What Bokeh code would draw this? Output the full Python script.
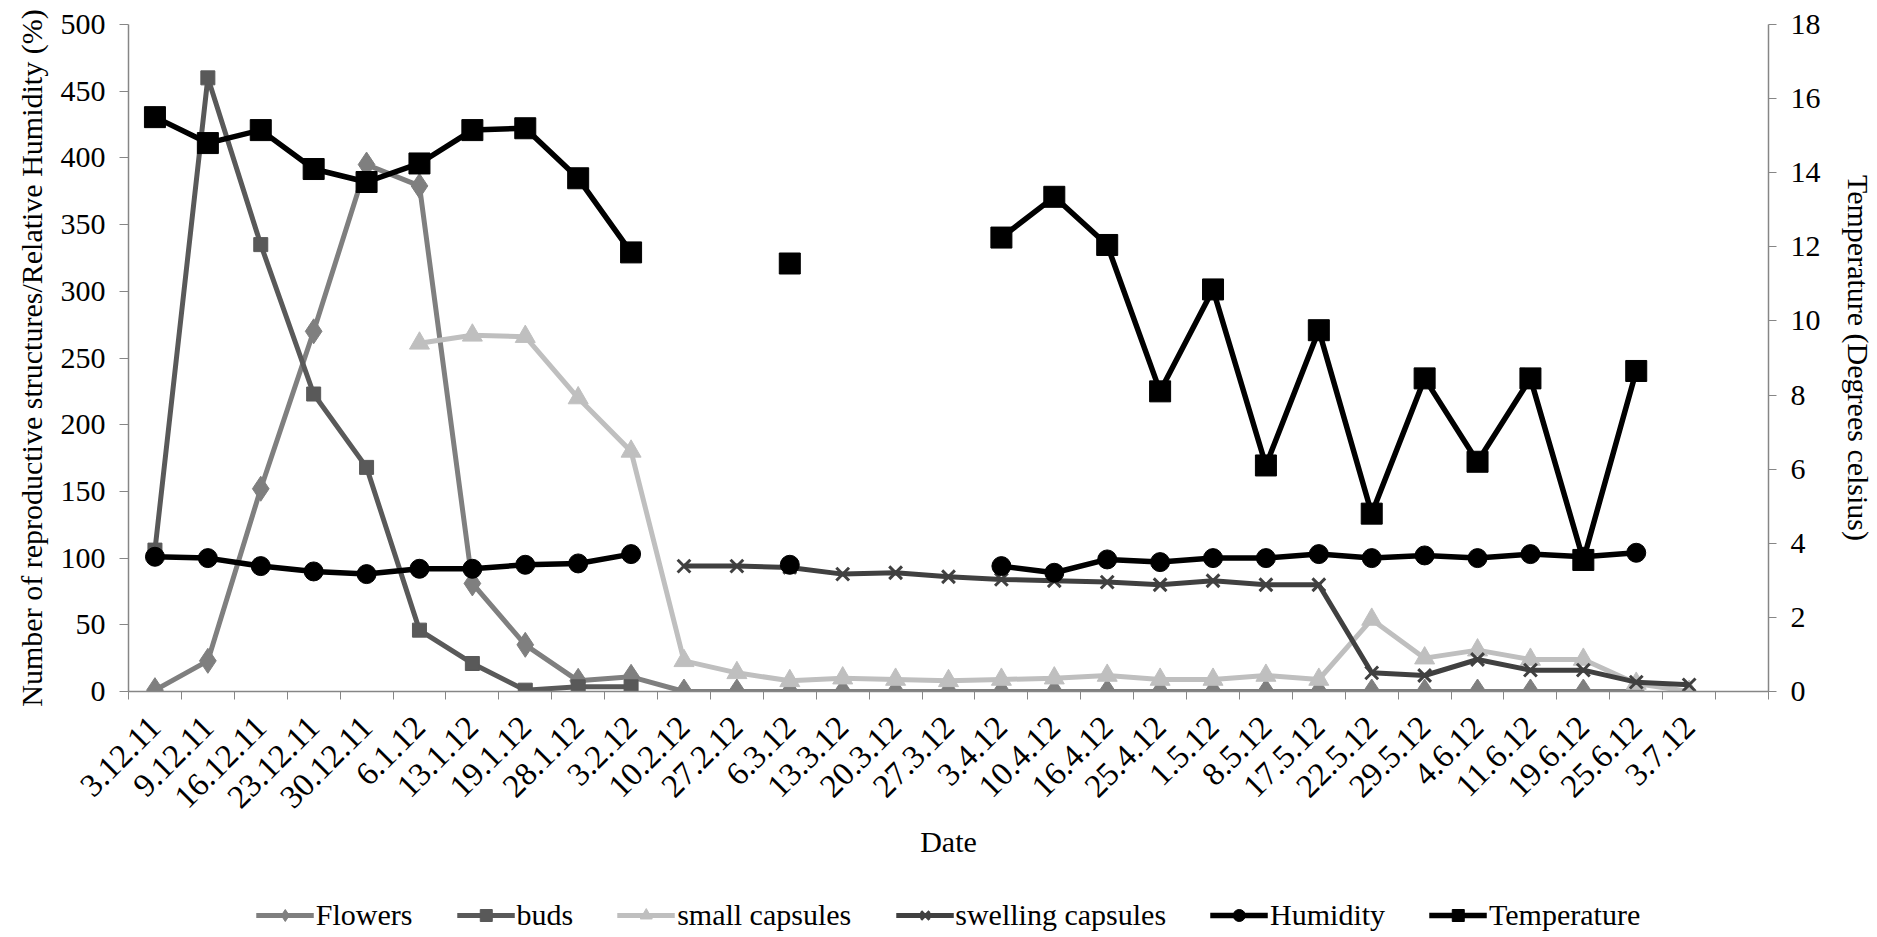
import math
from bokeh.plotting import figure
from bokeh.layouts import column
from bokeh.models import (Range1d, LinearAxis, FixedTicker, ColumnDataSource,
                          Legend, LegendItem)
from bokeh.embed import file_html
from bokeh.resources import INLINE

# Sampling dates (one extra empty slot follows the last date on the axis)
dates = ["3.12.11", "9.12.11", "16.12.11", "23.12.11", "30.12.11", "6.1.12",
         "13.1.12", "19.1.12", "28.1.12", "3.2.12", "10.2.12", "27.2.12",
         "6.3.12", "13.3.12", "20.3.12", "27.3.12", "3.4.12", "10.4.12",
         "16.4.12", "25.4.12", "1.5.12", "8.5.12", "17.5.12", "22.5.12",
         "29.5.12", "4.6.12", "11.6.12", "19.6.12", "25.6.12", "3.7.12"]

N = float("nan")

flowers = [1, 23, 152, 270, 395, 379, 81, 35, 8, 11,
           0, 0, 0, 0, 0, 0, 0, 0, 0, 0, 0, 0, 0, 0, 0, 0, 0, 0, 0, N]
buds = [106, 460, 335, 223, 168, 46, 21, 1, 3.5, 3.5,
        N, N, N, N, N, N, N, N, N, N, N, N, N, N, N, N, N, N, N, N]
small_capsules = [N, N, N, N, N, 261, 267, 266, 220, 180,
                  23, 14, 8, 10, 9, 8, 9, 10, 12, 9,
                  9, 12, 9, 54, 25, 31, 24, 24, 6, 0]
swelling_capsules = [N, N, N, N, N, N, N, N, N, N,
                     94, 94, 93, 88, 89, 86, 84, 83, 82, 80,
                     83, 80, 80, 14, 12, 24, 16, 16, 7, 5]
humidity = [101, 100, 94, 90, 88, 92, 92, 95, 96, 103,
            N, N, 95, N, N, N, 94, 89, 99, 97,
            100, 100, 103, 100, 102, 100, 103, 101, 104, N]
temperature = [15.5, 14.8, 15.15, 14.1, 13.75, 14.25, 15.15, 15.2, 13.85, 11.85,
               N, N, 11.55, N, N, N, 12.25, 13.35, 12.05, 8.1,
               10.85, 6.1, 9.75, 4.8, 8.45, 6.2, 8.45, 3.55, 8.65, N]

left_ticks = list(range(0, 501, 50))
right_ticks = list(range(0, 19, 2))

FONT = "Liberation Serif"
AXIS_GREY = "#868686"
n_slots = len(dates) + 1
x = list(range(len(dates)))

p = figure(frame_width=1640, frame_height=667, output_backend="svg",
           toolbar_location=None,
           x_range=Range1d(-0.5, n_slots - 0.5), y_range=Range1d(0, 500),
           min_border_left=128, min_border_right=109, min_border_top=24,
           min_border_bottom=0)
p.outline_line_color = None
p.background_fill_color = "white"
p.border_fill_color = "white"
p.xgrid.visible = False
p.ygrid.visible = False
p.extra_y_ranges = {"temp": Range1d(0, 18)}

# x axis: labels at category centres, tick marks on category boundaries
xa = p.xaxis[0]
xa.ticker = FixedTicker(ticks=x, minor_ticks=[i - 0.5 for i in range(n_slots + 1)])
xa.major_label_overrides = {i: d for i, d in enumerate(dates)}
xa.major_label_orientation = math.pi / 4
xa.major_tick_out = 0
xa.major_tick_in = 0
xa.minor_tick_out = 8
xa.minor_tick_in = 0
xa.minor_tick_line_color = AXIS_GREY
xa.axis_line_color = AXIS_GREY
xa.axis_line_width = 1.5
xa.major_label_standoff = 22
xa.axis_label = "Date"
xa.axis_label_standoff = 4

ya = p.yaxis[0]
ya.ticker = FixedTicker(ticks=left_ticks)
ya.minor_tick_line_color = None
ya.major_tick_out = 9
ya.major_tick_in = 0
ya.major_tick_line_color = AXIS_GREY
ya.axis_line_color = AXIS_GREY
ya.axis_line_width = 1.5
ya.major_label_standoff = 14
ya.axis_label = "Number of reproductive structures/Relative Humidity (%)"
ya.axis_label_standoff = 10

ra = LinearAxis(y_range_name="temp", ticker=FixedTicker(ticks=right_ticks))
ra.minor_tick_line_color = None
ra.major_tick_out = 8
ra.major_tick_in = 0
ra.major_tick_line_color = AXIS_GREY
ra.axis_line_color = AXIS_GREY
ra.axis_line_width = 1.5
ra.major_label_standoff = 14
ra.axis_label = "Temperature (Degrees celsius)"
ra.axis_label_standoff = 18
p.add_layout(ra, "right")

for ax in (xa, ya, ra):
    ax.major_label_text_font = FONT
    ax.major_label_text_font_size = "30px"
    ax.major_label_text_color = "black"
    ax.axis_label_text_font = FONT
    ax.axis_label_text_font_size = "30px"
    ax.axis_label_text_font_style = "normal"
    ax.axis_label_text_color = "black"
xa.major_label_text_font_size = "33px"

series = [
    ("Flowers", flowers, "#7f7f7f", "diamond", 25, 5, "default"),
    ("buds", buds, "#595959", "square", 14, 5, "default"),
    ("small capsules", small_capsules, "#bfbfbf", "triangle", 20, 5, "default"),
    ("swelling capsules", swelling_capsules, "#404040", "x", 18, 5, "default"),
    ("Humidity", humidity, "black", "circle", 19, 5.5, "default"),
    ("Temperature", temperature, "black", "square", 21, 5.5, "temp"),
]


def draw_series(fig, src, color, marker, size, lw, rng):
    line = fig.line("x", "y", source=src, line_color=color, line_width=lw,
                    y_range_name=rng)
    if marker == "x":
        pts = fig.scatter("x", "y", source=src, marker=marker, size=size,
                          line_color=color, line_width=3, y_range_name=rng)
    else:
        pts = fig.scatter("x", "y", source=src, marker=marker, size=size,
                          fill_color=color, line_color=color, line_width=1,
                          y_range_name=rng)
    return line, pts


for name, vals, color, marker, size, lw, rng in series:
    draw_series(p, ColumnDataSource(dict(x=x, y=vals)), color, marker, size, lw, rng)

# legend strip under the chart; its key renderers sit outside the strip's
# ranges so only the legend swatches show
lp = figure(width=1877, height=110, output_backend="svg", toolbar_location=None,
            x_range=Range1d(0, 1), y_range=Range1d(0, 1),
            min_border_left=0, min_border_right=0, min_border_top=0,
            min_border_bottom=0)
lp.extra_y_ranges = {"temp": Range1d(0, 1)}
lp.axis.visible = False
lp.xgrid.visible = False
lp.ygrid.visible = False
lp.outline_line_color = None
lp.background_fill_color = "white"
lp.border_fill_color = "white"

items = []
for name, vals, color, marker, size, lw, rng in series:
    key_src = ColumnDataSource(dict(x=[-5, -4], y=[-5, -4]))
    line, pts = draw_series(lp, key_src, color, marker, size, lw, rng)
    items.append(LegendItem(label=name, renderers=[line, pts]))

legend = Legend(items=items, orientation="horizontal", location="center")
legend.label_text_font = FONT
legend.label_text_font_size = "30px"
legend.label_text_color = "black"
legend.glyph_width = 58
legend.glyph_height = 30
legend.label_standoff = 2
legend.spacing = 44
legend.border_line_color = None
legend.background_fill_alpha = 0
legend.padding = 0
legend.margin = 0
lp.add_layout(legend, "center")

layout = column(p, lp, spacing=0)
open("out.html", "w").write(file_html(layout, INLINE))
